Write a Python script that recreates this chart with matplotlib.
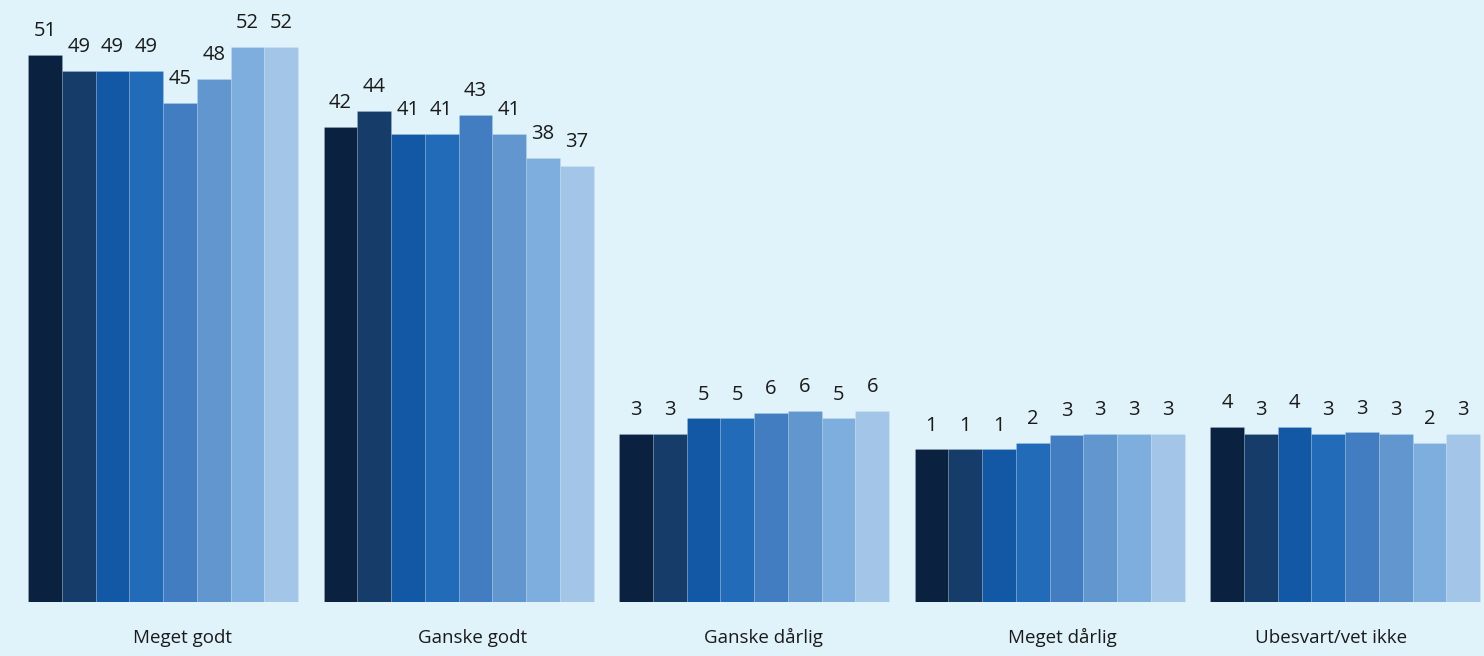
import numpy as np
import matplotlib.pyplot as plt
import matplotlib.transforms as mtransforms

# answer categories
categories = ["Meget godt", "Ganske godt", "Ganske dårlig", "Meget dårlig", "Ubesvart/vet ikke"]

# one list per category, eight series each (dark -> light)
meget_godt = [51.0, 49.0, 49.0, 49.0, 44.9, 48.0, 52.0, 52.0]
ganske_godt = [41.9, 43.9, 41.0, 41.0, 43.4, 41.0, 38.0, 36.9]
ganske_darlig = [3.0, 3.0, 4.96, 4.96, 5.7, 5.9, 4.96, 5.9]
meget_darlig = [1.04, 1.04, 1.04, 1.9, 2.86, 3.0, 3.0, 3.0]
ubesvart = [3.9, 3.0, 3.9, 3.0, 3.2, 3.0, 1.9, 3.0]

colors = ["#0a2240", "#163c69", "#1358a5", "#216bb8",
          "#417dc0", "#6196cf", "#7eaede", "#a2c5e8"]
bg = "#e0f3fb"
ink = "#1a1a1a"
base = -18.3  # bars start below zero in the original
label_shift_px = [19, 14, 9, 12.5, -14]  # category labels sit a bit off-centre

values = np.array([meget_godt, ganske_godt, ganske_darlig, meget_darlig, ubesvart])
n_groups, n_series = values.shape

plt.rcParams["font.family"] = ["Open Sans", "DejaVu Sans"]

fig = plt.figure(figsize=(14.84, 6.56), dpi=100, facecolor=bg)
ax = fig.add_axes([0, 54 / 656, 1, 602 / 656])
ax.set_facecolor(bg)

x = np.arange(n_groups)
w = 0.1142
for j in range(n_series):
    xs = x + (j - (n_series - 1) / 2) * w
    hs = values[:, j]
    ax.bar(xs, hs - base, bottom=base, width=w, color=colors[j],
           edgecolor=(1, 1, 1, 0.15), linewidth=0.6)
    for xi, h in zip(xs, hs):
        ax.annotate(f"{round(h)}", (xi, h), xytext=(0, 13.5), textcoords="offset points",
                    ha="center", va="baseline", fontsize=14.5, color=ink,
                    fontweight="medium")

ax.set_xlim(-0.5516, 4.470)
ax.set_ylim(base, 57.96)
ax.set_xticks([])
ax.set_yticks([])
for s in ax.spines.values():
    s.set_visible(False)

for xi, name, dx in zip(x, categories, label_shift_px):
    tr = ax.get_xaxis_transform() + mtransforms.ScaledTranslation(dx / 100, 0, fig.dpi_scale_trans)
    ax.text(xi, -41 / 602, name, transform=tr, ha="center", va="baseline",
            fontsize=13.5, color=ink, fontweight="medium")

fig.savefig("out.png", dpi=100, facecolor=bg)
